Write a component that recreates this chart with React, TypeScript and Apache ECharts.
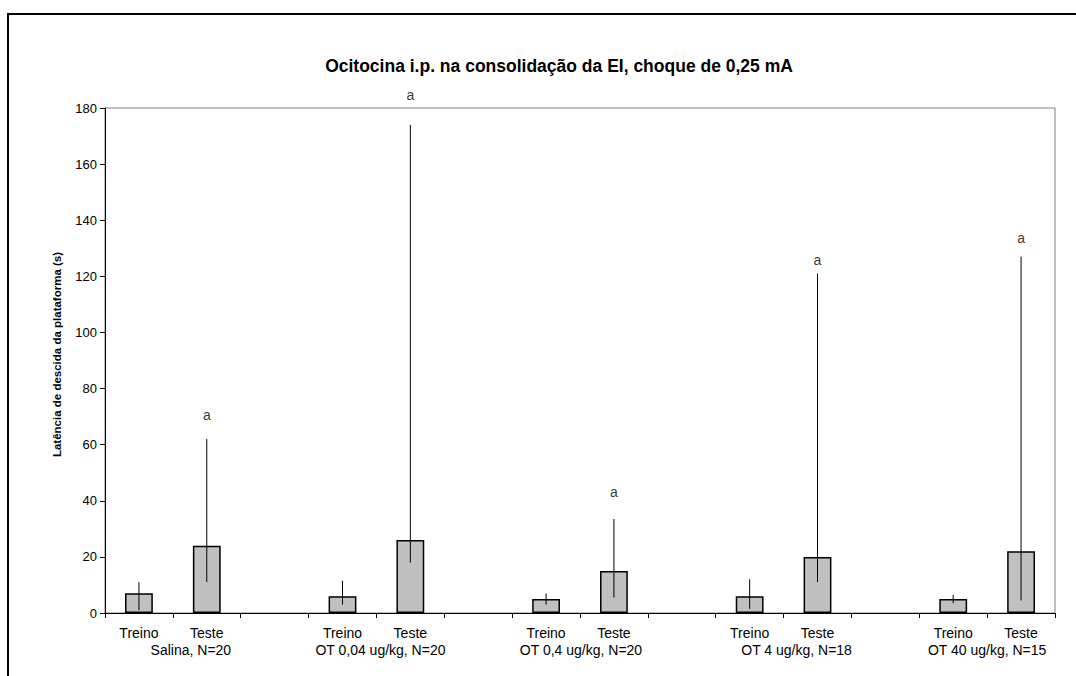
import React, { useEffect, useRef } from "react";
import * as echarts from "echarts";

const categories = ["Treino", "Teste", "", "Treino", "Teste", "", "Treino", "Teste", "", "Treino", "Teste", "", "Treino", "Teste"];
const groupLabels = ["Salina, N=20", "OT 0,04 ug/kg, N=20", "OT 0,4 ug/kg, N=20", "OT 4 ug/kg, N=18", "OT 40 ug/kg, N=15"];
const treinoMean = [7, 6, 5, 6, 5];
const treinoLow = [1, 3, 3, 1.5, 3.5];
const treinoHigh = [11, 11.5, 7, 12, 6.5];
const testeMean = [24, 26, 15, 20, 22];
const testeLow = [11, 18, 5.5, 11, 4.5];
const testeHigh = [62, 174, 33.5, 121, 127];
const letterY = [70.5, 184.5, 43, 126, 133.5];
const yTicks = [0, 20, 40, 60, 80, 100, 120, 140, 160, 180];

const FONT = "'Liberation Sans', Arial, sans-serif";
// per-label left padding (style only) to mimic the original's centring
const groupLabelPad = [36, 8, 2, 26, 0];

export default function App() {
  const ref = useRef<HTMLDivElement>(null);
  useEffect(() => {
    if (!ref.current) return;
    const chart = echarts.init(ref.current, null, { renderer: "svg" });

    const barData: any[] = categories.map(() => null);
    const errData: any[] = [];
    const letterData: any[] = [];
    for (let g = 0; g < 5; g++) {
      barData[3 * g] = treinoMean[g];
      barData[3 * g + 1] = testeMean[g];
      errData.push([3 * g, treinoLow[g], treinoHigh[g]]);
      errData.push([3 * g + 1, testeLow[g], testeHigh[g]]);
      letterData.push([3 * g + 1, letterY[g]]);
    }
    // boundary axis: 15 boundaries, group labels at boundary between Treino and Teste
    const boundaryCats: string[] = [];
    for (let i = 0; i <= categories.length; i++) boundaryCats.push("");
    for (let g = 0; g < 5; g++) boundaryCats[3 * g + 1] = groupLabels[g];

    const rich: any = {};
    groupLabelPad.forEach((p, g) => {
      rich["g" + g] = { fontSize: 14, fontFamily: FONT, color: "#000", padding: [0, 0, 0, p] };
    });

    chart.setOption({
      animation: false,
      backgroundColor: "#ffffff",
      textStyle: { fontFamily: FONT, color: "#000" },
      graphic: [
        {
          type: "rect",
          shape: { x: 8, y: 14, width: 1100, height: 700 },
          style: { fill: "none", stroke: "#000", lineWidth: 2 },
          silent: true,
        },
      ],
      title: {
        text: "Ocitocina i.p. na consolidação da EI, choque de 0,25 mA",
        left: 554,
        top: 52,
        textAlign: "center",
        textStyle: { fontFamily: FONT, fontSize: 17.5, fontWeight: "bold", color: "#000" },
      },
      grid: {
        left: 105,
        right: 21,
        top: 108,
        bottom: 63,
        show: true,
        borderColor: "#808080",
        borderWidth: 1,
        backgroundColor: "transparent",
      },
      xAxis: [
        {
          type: "category",
          data: categories,
          axisLine: { lineStyle: { color: "#000", width: 1 } },
          axisTick: { show: true, length: 5, lineStyle: { color: "#000" } },
          axisLabel: { interval: 0, fontSize: 14, color: "#000", fontFamily: FONT, margin: 13 },
          splitLine: { show: false },
        },
        {
          type: "category",
          data: boundaryCats,
          boundaryGap: false,
          position: "bottom",
          offset: 17,
          axisLine: { show: false },
          axisTick: { show: false },
          axisLabel: {
            interval: 0,
            fontSize: 14,
            color: "#000",
            fontFamily: FONT,
            margin: 13,
            formatter: (v: string) => {
              const g = groupLabels.indexOf(v);
              return g >= 0 ? "{g" + g + "|" + v + "}" : "";
            },
            rich,
          },
          splitLine: { show: false },
        },
      ],
      yAxis: {
        type: "value",
        min: 0,
        max: 180,
        interval: 20,
        name: "Latência de descida da plataforma (s)",
        nameLocation: "middle",
        nameRotate: 90,
        nameGap: 42,
        nameTextStyle: { fontFamily: FONT, fontSize: 11.5, fontWeight: "bold", color: "#000", padding: [0, 0, 0, 12] },
        axisLine: { show: true, lineStyle: { color: "#000", width: 1 } },
        axisTick: { show: true, length: 5, lineStyle: { color: "#000" } },
        axisLabel: { fontSize: 13, color: "#000", fontFamily: FONT, margin: 8, customValues: yTicks },
        splitLine: { show: false },
      },
      series: [
        {
          type: "bar",
          data: barData,
          barWidth: "41%",
          itemStyle: { color: "#c0c0c0", borderColor: "#000", borderWidth: 1.5 },
        },
        {
          type: "custom",
          data: errData,
          encode: { x: 0, y: [1, 2] },
          z: 5,
          renderItem: (params: any, api: any) => {
            const x = api.value(0);
            const lo = api.coord([x, api.value(1)]);
            const hi = api.coord([x, api.value(2)]);
            return {
              type: "line",
              shape: { x1: lo[0], y1: lo[1], x2: hi[0], y2: hi[1] },
              style: { stroke: "#000", lineWidth: 1 },
            };
          },
        },
        {
          type: "scatter",
          data: letterData,
          symbolSize: 0,
          clip: false,
          label: {
            show: true,
            position: "inside",
            formatter: "a",
            fontSize: 14,
            color: "#000",
            fontFamily: FONT,
          },
        },
      ],
    });
    return () => chart.dispose();
  }, []);
  return (
    <div
      ref={ref}
      style={{ position: "absolute", left: 0, top: 0, width: 1076, height: 676 }}
    />
  );
}
